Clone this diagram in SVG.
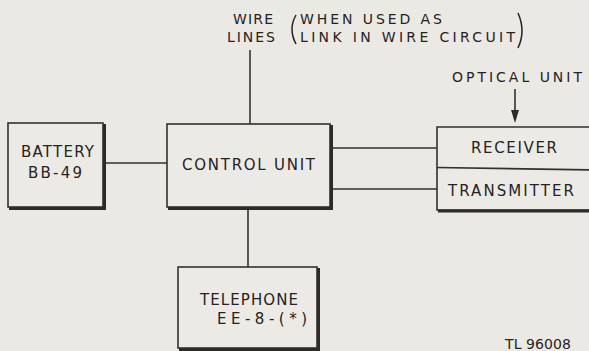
<svg xmlns="http://www.w3.org/2000/svg" width="589" height="351" viewBox="0 0 589 351">
<style>
.bg{fill:#ebe9e3}
.box{fill:#eceae5;stroke:#35302d;stroke-width:1.6}
.sh{fill:none;stroke:#2f2a27;stroke-width:3}
.ln{fill:none;stroke:#35302d;stroke-width:1.6}
text{font-family:"DejaVu Sans","Liberation Sans",sans-serif;font-size:15px;fill:#26221f}
.sm{font-size:14px}
.par{fill:none;stroke:#26221f;stroke-width:1.5}
</style>
<rect class="bg" x="0" y="0" width="589" height="351"/>

<g id="connectors">
<line class="ln" x1="250" y1="50" x2="250" y2="124"/>
<line class="ln" x1="105" y1="163" x2="167" y2="163"/>
<line class="ln" x1="332" y1="148" x2="437" y2="148"/>
<line class="ln" x1="332" y1="189" x2="437" y2="189"/>
<line class="ln" x1="248" y1="209" x2="248" y2="267"/>
<line class="ln" x1="515" y1="89" x2="515" y2="112"/>
<path d="M511,110 L519,110 L515,123 Z" fill="#2f2a27"/>
</g>

<g id="wire-label">
<text class="sm" x="233" y="24" textLength="40" lengthAdjust="spacing">WIRE</text>
<text class="sm" x="227" y="42" textLength="48" lengthAdjust="spacing">LINES</text>
<path class="par" d="M296,15 Q288,29 296,44"/>
<text class="sm" x="300" y="24" textLength="142" lengthAdjust="spacing">WHEN  USED  AS</text>
<text class="sm" x="300" y="42" textLength="215" lengthAdjust="spacing">LINK  IN  WIRE  CIRCUIT</text>
<path class="par" d="M518,13 Q526,31 518,48"/>
</g>

<g id="optical-label">
<text class="sm" x="452" y="82" textLength="130" lengthAdjust="spacing">OPTICAL  UNIT</text>
</g>

<g id="battery">
<rect class="box" x="8" y="123" width="95" height="84"/>
<path class="sh" d="M104.5,124 V208.5 H9"/>
<text x="21" y="157" textLength="73" lengthAdjust="spacing">BATTERY</text>
<text x="28" y="178" textLength="54" lengthAdjust="spacing">BB-49</text>
</g>

<g id="control-unit">
<rect class="box" x="167" y="124" width="163" height="83"/>
<path class="sh" d="M331.5,125 V208.5 H168"/>
<text x="182" y="170" textLength="133" lengthAdjust="spacing">CONTROL  UNIT</text>
</g>

<g id="receiver-transmitter">
<path class="box" d="M595,127 H437 V210 H595"/>
<line class="ln" x1="437" y1="167.5" x2="595" y2="170"/>
<path class="sh" d="M438,211 H595"/>
<text x="471" y="153" textLength="86" lengthAdjust="spacing">RECEIVER</text>
<text x="448" y="196" textLength="126" lengthAdjust="spacing">TRANSMITTER</text>
</g>

<g id="telephone">
<rect class="box" x="178" y="267" width="139" height="81"/>
<path class="sh" d="M318.5,268 V349.5 H179"/>
<text x="200" y="305" textLength="98" lengthAdjust="spacing">TELEPHONE</text>
<text x="217" y="324" textLength="90" lengthAdjust="spacing">EE-8-(*)</text>
</g>

<g id="figure-number">
<text class="sm" x="505" y="349" textLength="66" lengthAdjust="spacing">TL 96008</text>
</g>
</svg>
